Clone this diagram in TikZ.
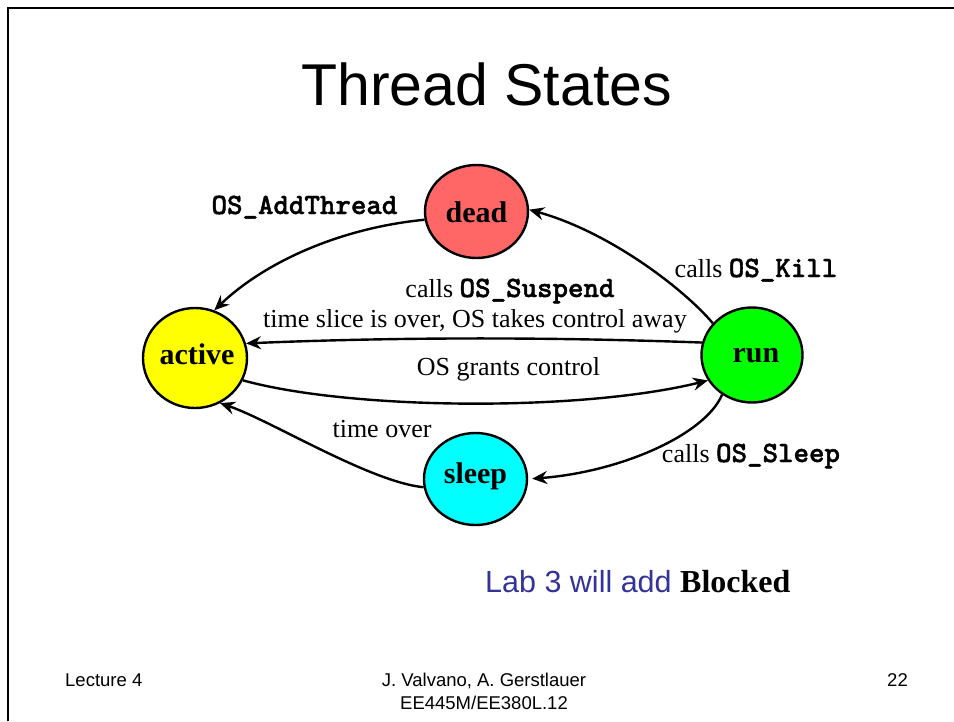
\documentclass[tikz,border=0pt]{standalone}
\usepackage{fontspec}
\setmainfont{Liberation Serif}
\setsansfont{Liberation Sans}
\newfontfamily\codefont{lmmonolt10-bold.otf}[FakeBold=1.5]
\usetikzlibrary{arrows.meta,shapes.geometric}
\definecolor{deadred}{HTML}{FF6666}
\definecolor{activeyellow}{HTML}{FFFF00}
\definecolor{rungreen}{HTML}{00FF00}
\definecolor{sleepcyan}{HTML}{00FFFF}
\definecolor{labblue}{HTML}{333399}
\newcommand\code[1]{{\codefont\fontsize{29.5}{30}\selectfont #1}}

\begin{document}
\begin{tikzpicture}[x=1pt,y=-1pt,
  state/.style={ellipse, draw=black, line width=2.4pt, inner sep=0pt},
  statetext/.style={anchor=base, inner sep=0pt, font=\fontsize{30}{32}\selectfont\bfseries},
  edgetext/.style={anchor=base, inner sep=0pt, font=\fontsize{26}{30}\selectfont},
  trans/.style={line width=2.4pt, -{Stealth[length=15pt,width=13pt,inset=5pt]}},
  foot/.style={inner sep=0pt, font=\sffamily\fontsize{18.5}{21}\selectfont}
]
\useasboundingbox (0,0) rectangle (954,721);

% slide frame (top and left edges)
\draw[line width=2.5pt] (8,721) -- (8,8) -- (954,8);

% title
\node[anchor=base, inner sep=0pt, font=\sffamily\fontsize{59}{60}\selectfont] (title) at (486.5,105) {Thread States};

% states
\node[state, fill=deadred, minimum width=103pt, minimum height=93pt] (dead) at (476.5,211.5) {};
\node[state, fill=activeyellow, minimum width=104pt, minimum height=100pt] (active) at (195,358) {};
\node[state, fill=rungreen, minimum width=101pt, minimum height=95pt] (run) at (752,355) {};
\node[state, fill=sleepcyan, minimum width=103pt, minimum height=92pt] (sleep) at (475.5,479) {};

\node[statetext] (deadlbl) at (476.5,222) {dead};
\node[statetext] (activelbl) at (197,364) {active};
\node[statetext] (runlbl) at (756,362) {run};
\node[statetext] (sleeplbl) at (475.5,483) {sleep};

% transitions
\draw[trans] (dead.189) .. controls (340,228) and (265,262) .. (active.68);
\draw[trans] (run.141) .. controls (685,290) and (610,232) .. (dead.2);
\draw[trans] (run.166) .. controls (550,337) and (400,337) .. (active.16);
\draw[trans] (active.335) .. controls (350,410) and (580,412) .. (run.210);
\draw[trans, shorten >=4pt] (run.233) .. controls (705,435) and (620,472) .. (sleep.0);
\draw[trans] (sleep.189) .. controls (370,482) and (270,420) .. (active.299);

% transition labels
\node[edgetext] (addthr) at (304.5,214) {\code{OS\_AddThread}};
\node[edgetext] (susp) at (510,297) {calls \code{OS\_Suspend}};
\node[edgetext] (slice) at (475,327) {time slice is over, OS takes control away};
\node[edgetext] (grant) at (508.5,375) {OS grants control};
\node[edgetext] (kill) at (756,277) {calls \code{OS\_Kill}};
\node[edgetext] (tover) at (382,437) {time over};
\node[edgetext] (sleepcall) at (751,462) {calls \code{OS\_Sleep}};

% note
\node[anchor=base west, inner sep=0pt] (note) at (485,592)
  {{\sffamily\fontsize{30.5}{32}\selectfont\color{labblue}Lab 3 will add }{\fontsize{32}{32}\selectfont\bfseries Blocked}};

% footer
\node[foot, anchor=base west] (lect) at (65,686) {Lecture 4};
\node[foot, anchor=base] (auth) at (484,686) {J. Valvano, A. Gerstlauer};
\node[foot, anchor=base] (course) at (484,709) {EE445M/EE380L.12};
\node[foot, anchor=base east] (page) at (908,686) {22};
\end{tikzpicture}
\end{document}
